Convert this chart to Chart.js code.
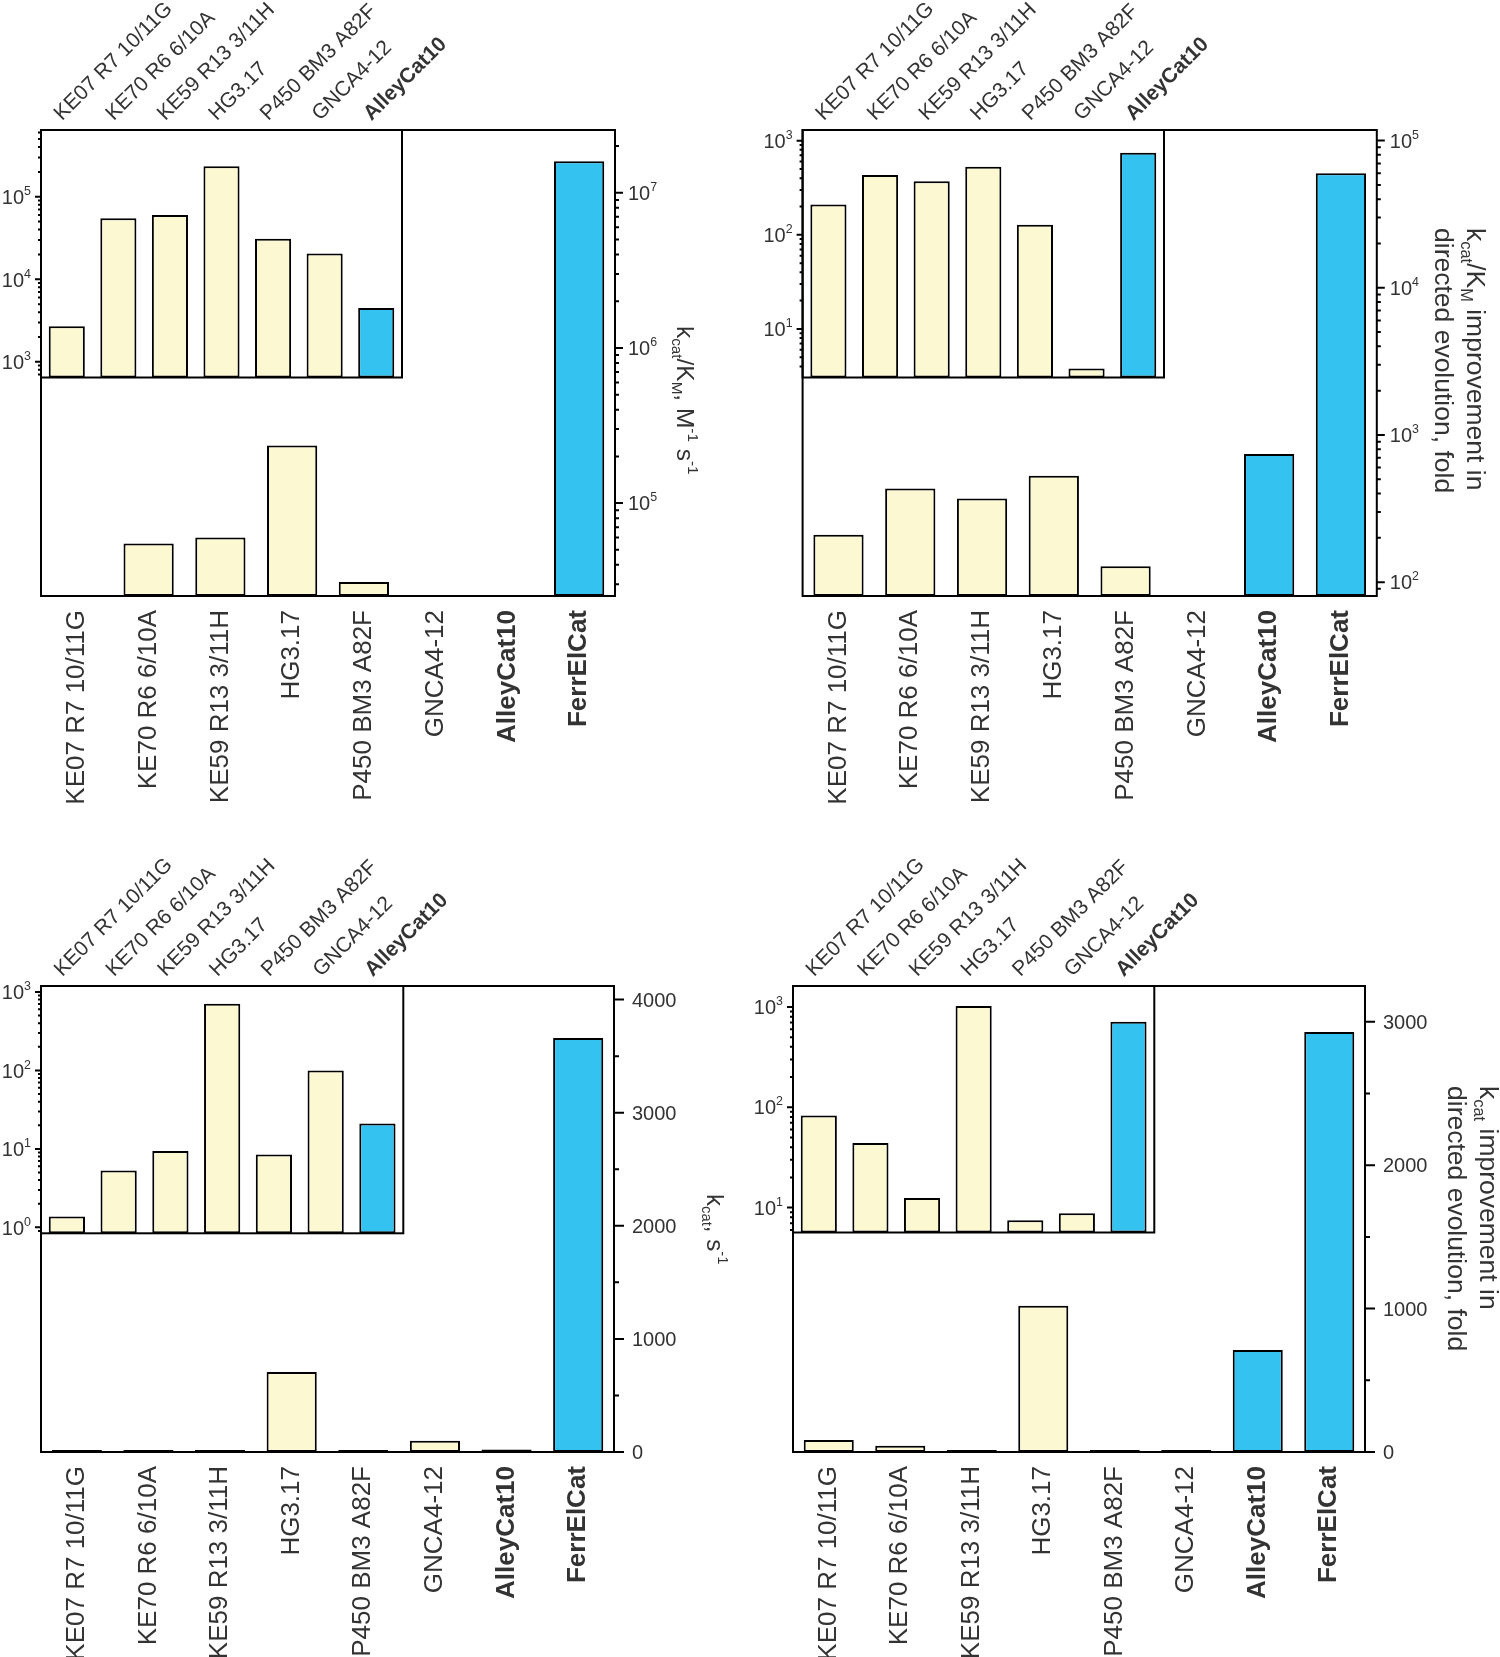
<!DOCTYPE html>
<html>
<head>
<meta charset="utf-8">
<script src="https://cdn.jsdelivr.net/npm/chart.js@4.4.1/dist/chart.umd.min.js"></script>
<style>
  body { margin: 0; background: #fff; }
  #page { position: relative; width: 1500px; height: 1657px; overflow: hidden; background: #fff; }
  canvas { position: absolute; }
</style>
</head>
<body>
<div id="page"></div>
<script>
// ---- data ----
const categories = ['KE07 R7 10/11G', 'KE70 R6 6/10A', 'KE59 R13 3/11H', 'HG3.17', 'P450 BM3 A82F', 'GNCA4-12', 'AlleyCat10', 'FerrElCat'];
const insetCategories = categories.slice(0, 7);
const boldLabels = ['AlleyCat10', 'FerrElCat'];

const kcatKm = [2700, 55000, 60000, 235000, 31000, 20500, 4500, 16000000];   // M-1 s-1
const kcatKmFold = [210, 432, 370, 528, 128, 3.8, 743, 60000];                // fold
const kcat = [1.38, 5.3, 9.4, 707, 8.5, 100, 21, 3660];                        // s-1
const kcatFold = [83, 44, 12.5, 1020, 7.5, 8.8, 712, 2929];                    // fold

const kcatKmTicks = [1e5, 1e6, 1e7];
const kcatKmInsetTicks = [1e3, 1e4, 1e5];
const kcatKmFoldTicks = [1e2, 1e3, 1e4, 1e5];
const kcatKmFoldInsetTicks = [1e1, 1e2, 1e3];
const kcatTicks = [0, 1000, 2000, 3000, 4000];
const kcatInsetTicks = [1, 10, 100, 1000];
const kcatFoldTicks = [0, 1000, 2000, 3000];
const kcatFoldInsetTicks = [10, 100, 1000];

const kcatKmTitle = [[['k'], ['cat', 'sub'], ['/K'], ['M', 'sub'], [', M'], ['-1', 'sup'], [' s'], ['-1', 'sup']]];
const kcatKmFoldTitle = [[['k'], ['cat', 'sub'], ['/K'], ['M', 'sub'], [' improvement in']], [['directed evolution, fold']]];
const kcatTitle = [[['k'], ['cat', 'sub'], [', s'], ['-1', 'sup']]];
const kcatFoldTitle = [[['k'], ['cat', 'sub'], [' improvement in']], [['directed evolution, fold']]];

// ---- style ----
const FONT = '"Liberation Sans", Arial, Helvetica, sans-serif';
const TEXT = '#333333';
const CREAM = '#FBF8D2';
const BLUE = '#34C3F1';

Chart.defaults.font.family = FONT;
Chart.defaults.color = TEXT;

function barColors(labels) {
  return labels.map(l => boldLabels.includes(l) ? BLUE : CREAM);
}

function logMinor(min, max) {
  const out = [];
  for (let e = Math.floor(Math.log10(min)); e <= Math.ceil(Math.log10(max)); e++) {
    for (let m = 2; m <= 9; m++) {
      const v = m * Math.pow(10, e);
      if (v >= min && v <= max) out.push(v);
    }
  }
  return out;
}

function linMinor(major) {
  const out = [];
  for (let i = 1; i < major.length; i++) out.push((major[i - 1] + major[i]) / 2);
  return out;
}

function tickParts(kind, v) {
  if (kind === 'log') return [['10'], [String(Math.round(Math.log10(v))), 'sup']];
  return [[String(v)]];
}

function setFont(ctx, size, bold) {
  ctx.font = (bold ? 'bold ' : '') + size + 'px ' + FONT;
}

function partsWidth(ctx, parts, size) {
  let w = 0;
  parts.forEach(p => {
    setFont(ctx, p[1] ? size * 0.62 : size);
    w += ctx.measureText(p[0]).width;
  });
  return w;
}

function drawParts(ctx, parts, x, y, size) {
  let cx = x;
  parts.forEach(p => {
    const small = p[1] ? size * 0.62 : size;
    setFont(ctx, small);
    const dy = p[1] === 'sub' ? size * 0.22 : p[1] === 'sup' ? -size * 0.45 : 0;
    ctx.fillText(p[0], cx, y + dy);
    cx += ctx.measureText(p[0]).width;
  });
}

// frame, axis ticks, tick labels and axis title drawn on the chart's own y scale
function decor(cfg) {
  return {
    id: 'decor',
    afterDraw(chart) {
      const ctx = chart.ctx, a = chart.chartArea, ys = chart.scales.y;
      ctx.save();
      ctx.strokeStyle = '#000';
      ctx.lineWidth = 2;
      ctx.strokeRect(a.left, a.top, a.right - a.left, a.bottom - a.top);

      const right = cfg.side === 'right';
      const x0 = right ? a.right : a.left;
      const dir = right ? 1 : -1;
      ctx.beginPath();
      cfg.major.forEach(v => {
        const y = ys.getPixelForValue(v);
        ctx.moveTo(x0, y); ctx.lineTo(x0 + dir * cfg.majorLen, y);
      });
      cfg.minor.forEach(v => {
        const y = ys.getPixelForValue(v);
        ctx.moveTo(x0, y); ctx.lineTo(x0 + dir * cfg.minorLen, y);
      });
      ctx.stroke();

      ctx.fillStyle = TEXT;
      ctx.textAlign = 'left';
      ctx.textBaseline = 'alphabetic';
      cfg.major.forEach(v => {
        const parts = tickParts(cfg.kind, v);
        const w = partsWidth(ctx, parts, cfg.labelSize);
        const y = ys.getPixelForValue(v) + cfg.labelSize * 0.36;
        const x = right ? x0 + cfg.labelGap : x0 - cfg.labelGap - w;
        drawParts(ctx, parts, x, y, cfg.labelSize);
      });

      if (cfg.title) {
        cfg.title.lines.forEach((parts, i) => {
          ctx.save();
          ctx.translate(x0 + cfg.title.dx[i], a.top + cfg.title.dy);
          ctx.rotate(Math.PI / 2);
          drawParts(ctx, parts, 0, 0, cfg.title.size);
          ctx.restore();
        });
      }
      ctx.restore();
    }
  };
}

const panels = [
  {
    x: 0, y: 0, h: 856, values: kcatKm,
    mainScale: { type: 'logarithmic', min: 25200, max: 2.54e7 }, mainTicks: kcatKmTicks, kind: 'log',
    insetScale: { min: 646, max: 6.44e5 }, insetTicks: kcatKmInsetTicks,
    area: { left: 41, top: 130, right: 615, bottom: 596 }, inset: { right: 402, bottom: 377.5 },
    title: { lines: kcatKmTitle, dx: [62], dy: 196, size: 24.5 }
  },
  {
    x: 750, y: 0, h: 856, values: kcatKmFold,
    mainScale: { type: 'logarithmic', min: 80.5, max: 1.18e5 }, mainTicks: kcatKmFoldTicks, kind: 'log',
    insetScale: { min: 3.05, max: 1298 }, insetTicks: kcatKmFoldInsetTicks,
    area: { left: 52.6, top: 130, right: 626.8, bottom: 596 }, inset: { right: 414, bottom: 377.5 },
    title: { lines: kcatKmFoldTitle, dx: [90, 58], dy: 98, size: 26.5 }
  },
  {
    x: 0, y: 856, h: 801, values: kcat,
    mainScale: { type: 'linear', min: 0, max: 4120 }, mainTicks: kcatTicks, kind: 'lin',
    insetScale: { min: 0.84, max: 1190 }, insetTicks: kcatInsetTicks,
    area: { left: 41, top: 130, right: 614, bottom: 596 }, inset: { right: 403.3, bottom: 377.3 },
    title: { lines: kcatTitle, dx: [93], dy: 208, size: 24 }
  },
  {
    x: 750, y: 856, h: 801, values: kcatFold,
    mainScale: { type: 'linear', min: 0, max: 3250 }, mainTicks: kcatFoldTicks, kind: 'lin',
    insetScale: { min: 5.65, max: 1617 }, insetTicks: kcatFoldInsetTicks,
    area: { left: 43, top: 130, right: 615, bottom: 596 }, inset: { right: 404.3, bottom: 376.5 },
    title: { lines: kcatFoldTitle, dx: [115, 83], dy: 100, size: 26.5 }
  }
];

const page = document.getElementById('page');

function addCanvas(x, y, w, h) {
  const c = document.createElement('canvas');
  c.width = w; c.height = h;
  c.style.left = x + 'px'; c.style.top = y + 'px';
  c.style.width = w + 'px'; c.style.height = h + 'px';
  page.appendChild(c);
  return c;
}

const commonOpts = {
  responsive: false,
  animation: false,
  devicePixelRatio: 1,
  events: [],
  plugins: { legend: { display: false }, tooltip: { enabled: false } }
};

panels.forEach(p => {
  // main chart: all eight enzymes, right-hand axis
  const W = 750;
  const axisH = p.h - p.area.bottom;
  const mainCanvas = addCanvas(p.x, p.y, W, p.h);
  const isLog = p.kind === 'log';
  new Chart(mainCanvas, {
    type: 'bar',
    data: {
      labels: categories,
      datasets: [{
        data: p.values,
        backgroundColor: barColors(categories),
        borderColor: '#000',
        borderWidth: 2,
        borderSkipped: false,
        barPercentage: 0.7,
        categoryPercentage: 1,
        minBarLength: 2,
        clip: 0
      }]
    },
    options: {
      ...commonOpts,
      layout: { padding: { left: p.area.left, top: p.area.top, right: W - p.area.right, bottom: 0 } },
      scales: {
        x: {
          grid: { display: false, drawTicks: false },
          border: { display: false },
          afterFit: s => { s.height = axisH; },
          ticks: {
            autoSkip: false, minRotation: 90, maxRotation: 90, padding: 14, color: TEXT,
            font: c => ({ size: 26, weight: boldLabels.includes(categories[c.index]) ? 'bold' : 'normal' })
          }
        },
        y: { display: false, ...p.mainScale }
      }
    },
    plugins: [decor({
      side: 'right', kind: p.kind, major: p.mainTicks,
      minor: isLog ? logMinor(p.mainScale.min, p.mainScale.max) : linMinor(p.mainTicks),
      majorLen: isLog ? 8 : 10, minorLen: isLog ? 4 : 5,
      labelGap: isLog ? 13 : 18, labelSize: 20, title: p.title
    })]
  });

  // inset: first seven enzymes on a log scale, labels on top
  const IW = 600, IH = 420;
  const insetCanvas = addCanvas(p.x, p.y, IW, IH);
  new Chart(insetCanvas, {
    type: 'bar',
    data: {
      labels: insetCategories,
      datasets: [{
        data: p.values.slice(0, 7),
        backgroundColor: barColors(insetCategories),
        borderColor: '#000',
        borderWidth: 2,
        borderSkipped: false,
        barPercentage: 0.7,
        categoryPercentage: 1,
        clip: 0
      }]
    },
    options: {
      ...commonOpts,
      layout: { padding: { left: p.area.left, top: 0, right: IW - p.inset.right, bottom: IH - p.inset.bottom } },
      scales: {
        x: {
          position: 'top',
          grid: { display: false, drawTicks: false },
          border: { display: false },
          afterFit: s => { s.height = p.area.top; },
          ticks: {
            autoSkip: false, minRotation: 45, maxRotation: 45, padding: 4, labelOffset: 9, color: TEXT,
            font: c => ({ size: 21, weight: boldLabels.includes(insetCategories[c.index]) ? 'bold' : 'normal' })
          }
        },
        y: { display: false, type: 'logarithmic', ...p.insetScale }
      }
    },
    plugins: [decor({
      side: 'left', kind: 'log', major: p.insetTicks,
      minor: logMinor(p.insetScale.min, p.insetScale.max),
      majorLen: 6, minorLen: 3, labelGap: 10, labelSize: 20
    })]
  });
});
</script>
</body>
</html>
